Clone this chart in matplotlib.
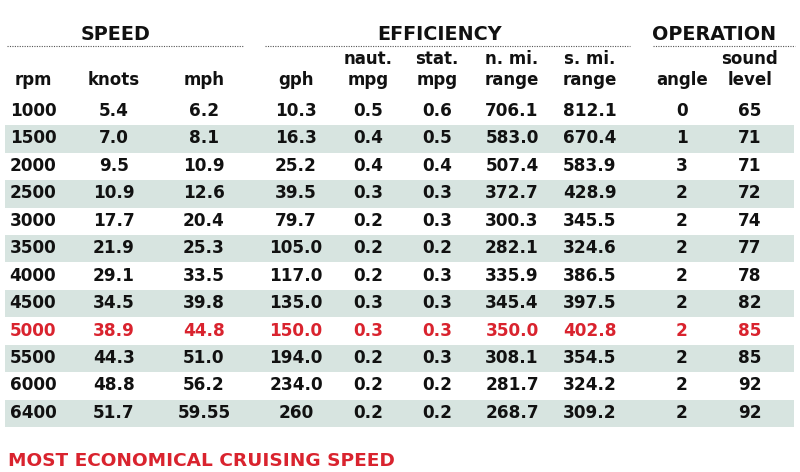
import matplotlib
matplotlib.use('Agg')
from matplotlib import pyplot as plt
from matplotlib.patches import Rectangle

# table values, as printed
rpm = ['1000', '1500', '2000', '2500', '3000', '3500', '4000', '4500', '5000', '5500', '6000', '6400']
knots = ['5.4', '7.0', '9.5', '10.9', '17.7', '21.9', '29.1', '34.5', '38.9', '44.3', '48.8', '51.7']
mph = ['6.2', '8.1', '10.9', '12.6', '20.4', '25.3', '33.5', '39.8', '44.8', '51.0', '56.2', '59.55']
gph = ['10.3', '16.3', '25.2', '39.5', '79.7', '105.0', '117.0', '135.0', '150.0', '194.0', '234.0', '260']
naut_mpg = ['0.5', '0.4', '0.4', '0.3', '0.2', '0.2', '0.2', '0.3', '0.3', '0.2', '0.2', '0.2']
stat_mpg = ['0.6', '0.5', '0.4', '0.3', '0.3', '0.2', '0.3', '0.3', '0.3', '0.3', '0.2', '0.2']
nmi_range = ['706.1', '583.0', '507.4', '372.7', '300.3', '282.1', '335.9', '345.4', '350.0', '308.1', '281.7', '268.7']
smi_range = ['812.1', '670.4', '583.9', '428.9', '345.5', '324.6', '386.5', '397.5', '402.8', '354.5', '324.2', '309.2']
angle = ['0', '1', '3', '2', '2', '2', '2', '2', '2', '2', '2', '2']
sound = ['65', '71', '71', '72', '74', '77', '78', '82', '85', '85', '92', '92']

col_top = ['', '', '', '', 'naut.', 'stat.', 'n. mi.', 's. mi.', '', 'sound']
col_bottom = ['rpm', 'knots', 'mph', 'gph', 'mpg', 'mpg', 'range', 'range', 'angle', 'level']
groups = ['SPEED', 'EFFICIENCY', 'OPERATION']
highlight_rpm = '5000'
footer = 'MOST ECONOMICAL CRUISING SPEED'

columns = [rpm, knots, mph, gph, naut_mpg, stat_mpg, nmi_range, smi_range, angle, sound]

# layout (pixel coordinates)
col_x = [33, 114, 204, 296, 368, 437, 512, 590, 682, 750]
group_cx = [116, 440, 714]
group_x = [(7, 243), (265, 630), (653, 795)]
row_y0 = 111
row_h = 27.45

RED = '#d9232e'
BAND = '#d7e4e0'
INK = '#111111'
FONT = 'DejaVu Sans'

fig = plt.figure(figsize=(8, 4.72), dpi=100)
ax = fig.add_axes([0, 0, 1, 1])
ax.set_xlim(0, 800)
ax.set_ylim(472, 0)
ax.axis('off')

# group headers with dotted rules
for name, cx, (x0, x1) in zip(groups, group_cx, group_x):
    ax.text(cx, 35, name, ha='center', va='center', fontsize=13.8,
            fontweight='heavy', family=FONT, color=INK)
    ax.plot([x0, x1], [46, 46], color='#555555', lw=0.8, linestyle=(0, (1, 1.2)))

# column labels
for x, top, bot in zip(col_x, col_top, col_bottom):
    if top:
        ax.text(x, 59, top, ha='center', va='center', fontsize=12,
                fontweight='bold', family=FONT, color=INK)
    ax.text(x, 80, bot, ha='center', va='center', fontsize=12,
            fontweight='bold', family=FONT, color=INK)

# rows
for i, r in enumerate(rpm):
    y = row_y0 + i * row_h
    if i % 2 == 1:
        ax.add_patch(Rectangle((5, y - row_h / 2 + 0.5), 789, row_h,
                               facecolor=BAND, edgecolor='none', zorder=0))
    color = RED if r == highlight_rpm else INK
    for x, col in zip(col_x, columns):
        ax.text(x, y, col[i], ha='center', va='center', fontsize=12.2,
                fontweight='bold', family=FONT, color=color)

ax.text(8, 461, footer, ha='left', va='center', fontsize=13.3,
        fontweight='bold', family=FONT, color=RED)

fig.savefig('out.png', dpi=100)
